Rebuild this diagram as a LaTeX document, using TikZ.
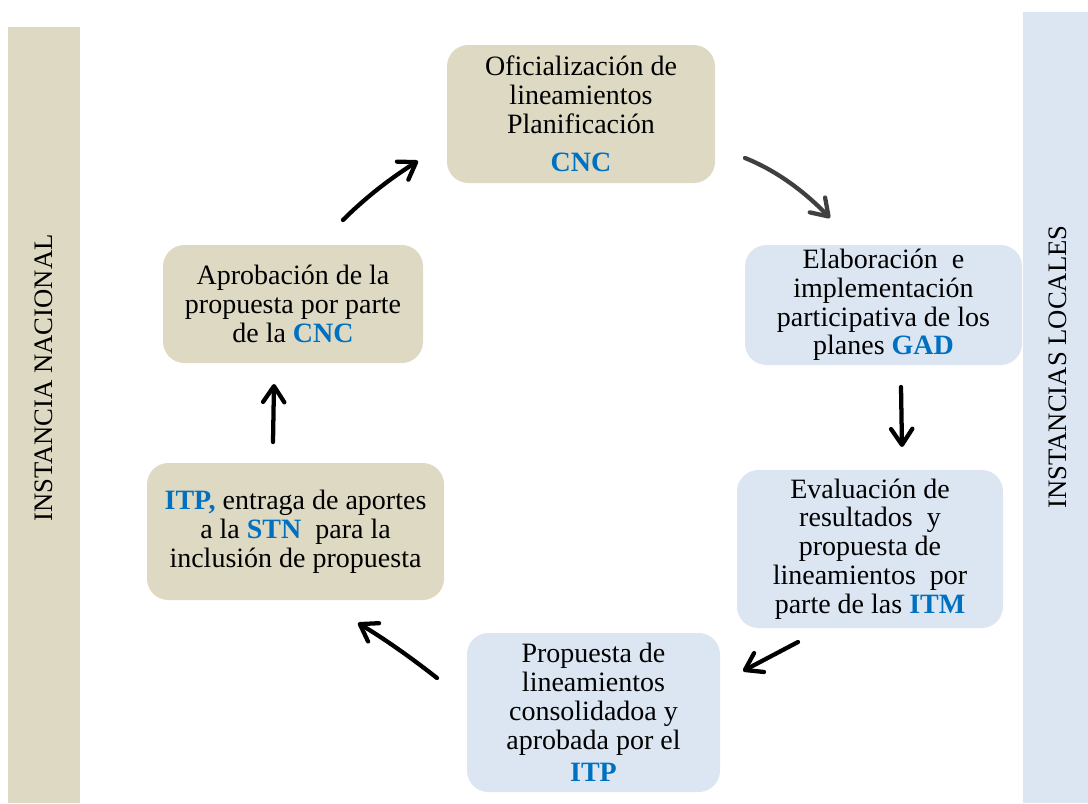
\documentclass[tikz,border=0pt]{standalone}
\usepackage{fontspec}
\setmainfont{Liberation Serif}
\usetikzlibrary{arrows.meta}

\definecolor{fondotan}{HTML}{DDD9C3}
\definecolor{celeste}{HTML}{DCE6F2}
\definecolor{sigla}{HTML}{0070C0}
\definecolor{gris}{HTML}{404040}
\newcommand{\sigla}[1]{\textcolor{sigla}{\textbf{#1}}}

\tikzset{every picture/.style={line width=0.75pt},
	caja/.style={rounded corners=16pt, align=center, inner sep=0pt, font=\fontsize{21}{21.6}\selectfont},
	cajatan/.style={caja, fill=fondotan},
	cajaazul/.style={caja, fill=celeste},
	flecha/.style={line width=3.2pt, line cap=round, -{Straight Barb[length=12pt,width=16pt,round]}},
	rotulo/.style={rotate=90, inner sep=0pt, font=\fontsize{20}{24}\selectfont}}

\begin{document}
\begin{tikzpicture}[x=0.75pt,y=0.75pt,yscale=-1,xscale=1]
			\useasboundingbox (0,0) rectangle (1088,803);

			%Shape: Rectangle [instancia nacional]
			\fill[fondotan] (8,27) rectangle (80,803);
			%Shape: Rectangle [instancias locales]
			\fill[celeste] (1023,12) rectangle (1088,803);

			% Text Node
			\node[rotulo] (nacional) at (44,378) {INSTANCIA NACIONAL};
			% Text Node
			\node[rotulo] (locales) at (1058,367) {INSTANCIAS LOCALES};

			%Shape: Rounded Rect
			\node[cajatan, minimum width=201pt, minimum height=103.5pt] (ofic) at (581,114) {Oficialización de\\ lineamientos\\ Planificación\\[7pt] \sigla{CNC}};
			%Shape: Rounded Rect
			\node[cajaazul, minimum width=207.75pt, minimum height=90pt] (elab) at (883.5,305) {Elaboración\ \ e\\ implementación\\ participativa de los\\ planes \sigla{GAD}};
			%Shape: Rounded Rect
			\node[cajaazul, minimum width=199.5pt, minimum height=118.5pt] (eval) at (870,549) {Evaluación de\\ resultados\ \ y\\ propuesta de\\ lineamientos\ \ por\\ parte de las \sigla{ITM}};
			%Shape: Rounded Rect
			\node[cajaazul, minimum width=189.75pt, minimum height=119.25pt] (prop) at (593.5,712.5) {Propuesta de\\ lineamientos\\ consolidadoa y\\ aprobada por el\\[3pt] \sigla{ITP}};
			%Shape: Rounded Rect
			\node[cajatan, minimum width=222.75pt, minimum height=102.75pt] (itp) at (295.5,531.5) {\sigla{ITP,} entraga de aportes\\ a la \sigla{STN}\ \ para la\\ inclusión de propuesta};
			%Shape: Rounded Rect
			\node[cajatan, minimum width=195pt, minimum height=88.5pt] (apro) at (293,304) {Aprobación de la\\ propuesta por parte\\ de la \sigla{CNC}};

			%Curve Lines
			\coordinate (f1a) at (343,220); \coordinate (f1b) at (418,161);
			\draw[flecha] (f1a) .. controls (366,197) and (391,178) .. (f1b);
			%Curve Lines
			\coordinate (f2a) at (745,158); \coordinate (f2b) at (830,218);
			\draw[flecha, gris] (f2a) .. controls (775,170) and (803,190) .. (f2b);
			%Straight Lines
			\coordinate (f3a) at (901,387); \coordinate (f3b) at (902,447);
			\draw[flecha] (f3a) -- (f3b);
			%Straight Lines
			\coordinate (f4a) at (798,642); \coordinate (f4b) at (743,671);
			\draw[flecha] (f4a) -- (f4b);
			%Curve Lines
			\coordinate (f5a) at (437,678); \coordinate (f5b) at (358,623);
			\draw[flecha] (f5a) .. controls (409,656) and (383,638) .. (f5b);
			%Straight Lines
			\coordinate (f6a) at (273,442); \coordinate (f6b) at (274,384);
			\draw[flecha] (f6a) -- (f6b);

\end{tikzpicture}
\end{document}
